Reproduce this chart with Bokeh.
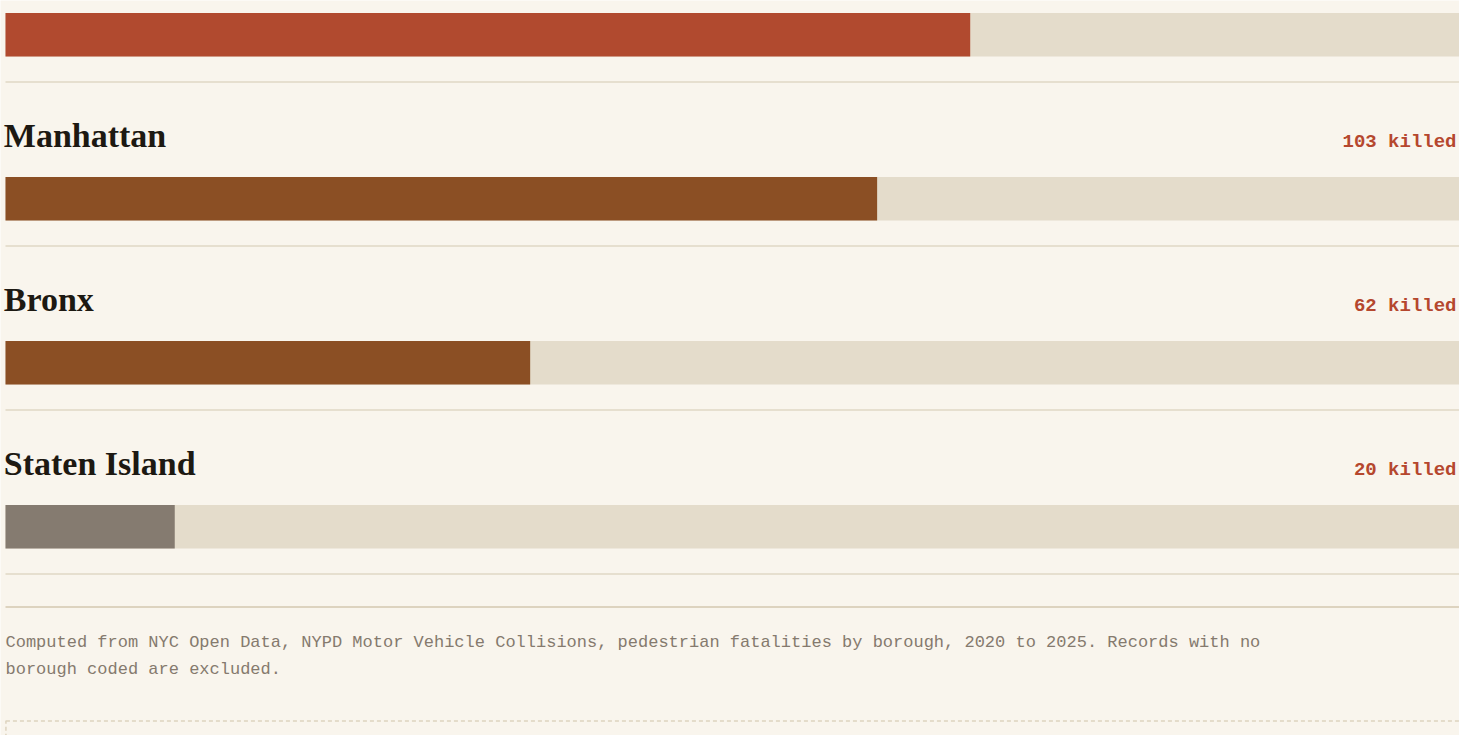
from bokeh.plotting import figure
from bokeh.models import Range1d
from bokeh.core.properties import value
from bokeh.embed import file_html
from bokeh.resources import INLINE

# ---- data ----
boroughs = ["Queens", "Manhattan", "Bronx", "Staten Island"]
killed = [114, 103, 62, 20]
bar_colors = ["#b14a2f", "#8b4f24", "#8b4f24", "#857b70"]
scale_max = 173  # domain end of the track (largest borough, above the view)
footnote_lines = [
    "Computed from NYC Open Data, NYPD Motor Vehicle Collisions, pedestrian fatalities by borough, 2020 to 2025. Records with no",
    "borough coded are excluded.",
]

# ---- layout constants (px) ----
BG = "#f9f5ed"
TRACK = "#e4dccb"
SEP = "#e6dfcf"
W, H = 1459, 735
TRACK_LEFT, TRACK_RIGHT = 5, 1469
unit = (TRACK_RIGHT - TRACK_LEFT) / scale_max
first_top = 12.5
pitch = 164
bar_h = 43.5

x_start = -TRACK_LEFT / unit
x_end = (W - TRACK_LEFT) / unit
label_right = (W - 3 - TRACK_LEFT) / unit

p = figure(width=W, height=H, output_backend="svg", toolbar_location=None,
           x_range=Range1d(x_start, x_end), y_range=Range1d(H, 0),
           min_border=0, outline_line_color=None,
           background_fill_color=BG, border_fill_color=BG)
p.axis.visible = False
p.grid.visible = False

tops = [first_top + pitch * i for i in range(len(boroughs))]
centers = [t + bar_h / 2 for t in tops]

# tracks
p.hbar(y=centers, left=0, right=scale_max, height=bar_h, color=TRACK, line_color=None)
# value bars
p.hbar(y=centers, left=0, right=killed, height=bar_h, fill_color=bar_colors, line_color=None)

# separators
seps = [t + 69 for t in tops]
p.segment(x0=0, x1=scale_max, y0=seps, y1=seps, line_color=SEP, line_width=2)

# labels (only rows whose label is inside the view)
vis = [i for i, t in enumerate(tops) if t - 60 > 0]
p.text(x=[-0.2] * len(vis), y=[tops[i] - 29 - 12.5 for i in vis], text=[boroughs[i] for i in vis],
       text_font=value("Liberation Serif"), text_font_style="bold", text_font_size="34px",
       text_color="#1d1912", text_baseline="alphabetic", text_align="left")
p.text(x=[label_right] * len(vis), y=[tops[i] - 28 - 7 for i in vis],
       text=[f"{killed[i]} killed" for i in vis],
       text_font=value("Liberation Mono"), text_font_style="bold", text_font_size="19px",
       text_color="#b5472e", text_baseline="alphabetic", text_align="right")

# heavier rule under the list
rule_y = tops[-1] + 102
p.segment(x0=[0], x1=[scale_max], y0=[rule_y], y1=[rule_y], line_color="#ddd3bf", line_width=2)

# footnote
p.text(x=[0.0, 0.0], y=[rule_y + 41.5 - 6.5, rule_y + 68.5 - 6.5], text=footnote_lines,
       text_font=value("Liberation Mono"), text_font_size="17px",
       text_color="#857a6e", text_baseline="alphabetic", text_align="left")

# dashed box at the bottom
box_top = rule_y + 114
p.quad(left=[0.05], right=[scale_max + 5], top=[box_top], bottom=[box_top + 200],
       fill_color=None, line_color="#ddd3bf", line_width=1.5, line_dash="4 3")

open("out.html", "w").write(file_html(p, INLINE))
